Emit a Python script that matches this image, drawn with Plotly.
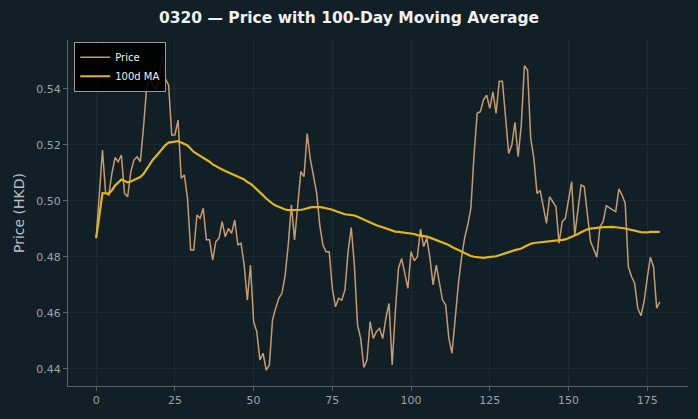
import plotly.graph_objects as go
import pandas as pd

days = list(range(180))
price = [
    0.4867, 0.5034, 0.5182, 0.5027, 0.5021, 0.5099, 0.5155, 0.5140, 0.5164, 0.5027,
    0.5015, 0.5105, 0.5146, 0.5158, 0.5140, 0.5259, 0.5402, 0.5444, 0.5414, 0.5396,
    0.5438, 0.5521, 0.5435, 0.5414, 0.5236, 0.5236, 0.5289, 0.5081, 0.5093, 0.5009,
    0.4825, 0.4825, 0.4950, 0.4938, 0.4974, 0.4861, 0.4861, 0.4789, 0.4855, 0.4867,
    0.4926, 0.4872, 0.4902, 0.4884, 0.4932, 0.4843, 0.4849, 0.4771, 0.4646, 0.4771,
    0.4569, 0.4533, 0.4432, 0.4456, 0.4396, 0.4414, 0.4575, 0.4617, 0.4652, 0.4670,
    0.4733, 0.4843, 0.4986, 0.4861, 0.4998, 0.5105, 0.5087, 0.5241, 0.5150, 0.5090,
    0.5030, 0.4914, 0.4843, 0.4819, 0.4819, 0.4688, 0.4622, 0.4652, 0.4646, 0.4682,
    0.4819, 0.4905, 0.4771, 0.4557, 0.4509, 0.4405, 0.4432, 0.4569, 0.4509, 0.4533,
    0.4545, 0.4509, 0.4581, 0.4634, 0.4414, 0.4605, 0.4759, 0.4795, 0.4736, 0.4688,
    0.4819, 0.4786, 0.4801, 0.4900, 0.4837, 0.4867, 0.4795, 0.4700, 0.4771, 0.4700,
    0.4646, 0.4628, 0.4509, 0.4456, 0.4581, 0.4700, 0.4795, 0.4867, 0.4914, 0.4974,
    0.5164, 0.5313, 0.5319, 0.5361, 0.5378, 0.5331, 0.5390, 0.5313, 0.5428, 0.5428,
    0.5301, 0.5170, 0.5200, 0.5281, 0.5158, 0.5271, 0.5483, 0.5468, 0.5224, 0.5152,
    0.5027, 0.5037, 0.4980, 0.4920, 0.5015, 0.4998, 0.4980, 0.4849, 0.4926, 0.4938,
    0.5009, 0.5069, 0.4878, 0.4962, 0.5057, 0.5051, 0.4962, 0.4855, 0.4828, 0.4799,
    0.4908, 0.4926, 0.4983, 0.4974, 0.4968, 0.4962, 0.5043, 0.5021, 0.4992, 0.4765,
    0.4730, 0.4706, 0.4617, 0.4590, 0.4640, 0.4724, 0.4799, 0.4765, 0.4617, 0.4640,
]
ma_window = 100
ma = pd.Series(price).rolling(ma_window, min_periods=1).mean().tolist()

x_ticks = [0, 25, 50, 75, 100, 125, 150, 175]
y_ticks = [0.44, 0.46, 0.48, 0.50, 0.52, 0.54]

BG = "#111f26"
GRID = "#1c2b32"
AX = "#5a6468"
TXT = "#9aa3a8"

fig = go.Figure()
fig.add_trace(go.Scatter(x=days, y=price, mode="lines", name="Price",
                         line=dict(color="#c89b6e", width=1.5)))
fig.add_trace(go.Scatter(x=days, y=ma, mode="lines", name="100d MA",
                         line=dict(color="#e2b51c", width=2.2)))

fig.update_layout(
    width=698, height=419,
    paper_bgcolor=BG, plot_bgcolor=BG,
    margin=dict(l=68, r=10, t=40, b=33),
    font=dict(family="DejaVu Sans", color=TXT, size=11),
    title=dict(text="<b>0320 — Price with 100-Day Moving Average</b>",
               x=0.5, xanchor="center", y=0.957, yanchor="middle",
               font=dict(size=15.5, color="#f0f0f0", family="DejaVu Sans")),
    legend=dict(x=0.01, y=0.995, xanchor="left", yanchor="top",
                bgcolor="rgba(0,0,0,0.9)", bordercolor="#9a9a9a", borderwidth=1,
                font=dict(color="#f0f0f0", size=10), tracegroupgap=0,
                itemwidth=30),
    showlegend=True,
)
fig.update_xaxes(range=[-8.95, 187.95], tickvals=x_ticks, ticks="outside", ticklen=4,
                 tickcolor=AX, showline=True, linecolor=AX, linewidth=1,
                 showgrid=True, gridcolor=GRID, zeroline=False,
                 tickfont=dict(size=11, color=TXT))
fig.update_yaxes(range=[0.4339, 0.5575], tickvals=y_ticks, tickformat=".2f",
                 ticks="outside", ticklen=4, tickcolor=AX, showline=True,
                 linecolor=AX, linewidth=1, showgrid=True, gridcolor=GRID,
                 zeroline=False, tickfont=dict(size=11, color=TXT),
                 title=dict(text="Price (HKD)", font=dict(size=14, color="#b8bfc3"),
                            standoff=8))
fig.write_html("out.html")
